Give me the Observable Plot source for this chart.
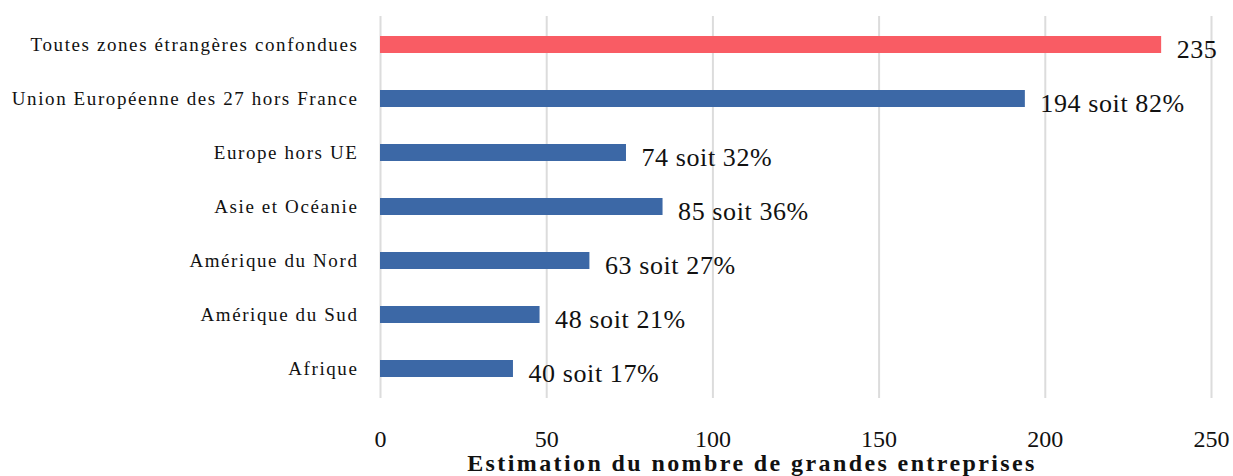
<!DOCTYPE html>
<html>
<head>
<meta charset="utf-8">
<script src="https://cdn.jsdelivr.net/npm/d3@7"></script>
<script src="https://cdn.jsdelivr.net/npm/@observablehq/plot@0.6"></script>
<style>
  html, body { margin: 0; padding: 0; background: #fff; }
  #chart svg { display: block; }
  #chart svg text { font-family: 'Liberation Serif', 'DejaVu Serif', serif; }
  #chart svg g.ylab text { letter-spacing: 1.6px; }
  #chart svg g.vlab text { letter-spacing: 0.6px; }
  #chart svg g.xtitle text { letter-spacing: 2.4px; }
</style>
</head>
<body>
<div id="chart"></div>
<script>
const categories = [
  "Toutes zones étrangères confondues",
  "Union Européenne des 27 hors France",
  "Europe hors UE",
  "Asie et Océanie",
  "Amérique du Nord",
  "Amérique du Sud",
  "Afrique"
];
const values = [235, 194, 74, 85, 63, 48, 40];
const valueLabels = ["235", "194 soit 82%", "74 soit 32%", "85 soit 36%", "63 soit 27%", "48 soit 21%", "40 soit 17%"];
const groups = ["total", "zone", "zone", "zone", "zone", "zone", "zone"];
const xTicks = [0, 50, 100, 150, 200, 250];
const xTitle = "Estimation du nombre de grandes entreprises";

const data = categories.map((c, i) => ({category: c, value: values[i], label: valueLabels[i], group: groups[i]}));

const font = "'Liberation Serif', 'DejaVu Serif', serif";

const chart = Plot.plot({
  width: 1233,
  height: 476,
  marginLeft: 380,
  marginRight: 22,
  marginTop: 16,
  marginBottom: 78,
  style: {fontFamily: font, background: "#fff", color: "#111"},
  x: {domain: [0, 250], ticks: xTicks},
  y: {domain: categories, paddingInner: 0.68, paddingOuter: 0.34, align: 0.5},
  color: {domain: ["total", "zone"], range: ["#F95C64", "#3C68A6"]},
  marks: [
    Plot.gridX(xTicks, {stroke: "#dcdcdc", strokeOpacity: 1, strokeWidth: 2}),
    Plot.barX(data, {x: "value", y: "category", fill: "group"}),
    Plot.text(data, {x: "value", y: "category", text: "label", textAnchor: "start", dx: 15, dy: 4.5, fontSize: 26, fontFamily: font, fill: "#111", className: "vlab"}),
    Plot.axisY({tickSize: 0, tickPadding: 22, fontSize: 19, fontFamily: font, label: null, className: "ylab"}),
    Plot.axisX(xTicks, {tickSize: 0, tickPadding: 31, fontSize: 24, fontFamily: font, label: null, tickFormat: d => String(d)}),
    Plot.text([xTitle], {frameAnchor: "bottom", lineAnchor: "top", dy: 55, dx: -44, fontSize: 24, fontWeight: "bold", fontFamily: font, fill: "#111", className: "xtitle"})
  ]
});
document.getElementById("chart").appendChild(chart);
</script>
</body>
</html>
